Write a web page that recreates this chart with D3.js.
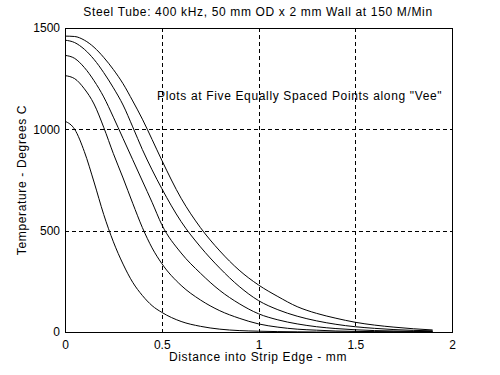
<html>
<script src='https://d3js.org/d3.v7.min.js'></script>
<style>
body { margin: 0; background: white; }
text { font-family: Arial, 'Liberation Sans', sans-serif; font-size: 12px; fill: black; }
.label { letter-spacing: 0.65px; }
</style>
<body>
<svg width=500 height=375></svg>
<script>
// distance into strip edge, mm
const dist = [0, 0.05, 0.1, 0.15, 0.2, 0.25, 0.3, 0.35, 0.4, 0.45, 0.5, 0.6, 0.7, 0.8, 0.9, 1.0, 1.1, 1.2, 1.3, 1.4, 1.5, 1.6, 1.7, 1.8, 1.9];
// temperature at five points along the vee
const point1 = [1460, 1458, 1440, 1405, 1355, 1295, 1225, 1140, 1050, 950, 848, 660, 515, 400, 305, 232, 175, 125, 92, 68, 48, 34, 24, 16, 10];
const point2 = [1440, 1428, 1395, 1345, 1280, 1205, 1120, 1012, 900, 800, 708, 545, 420, 315, 225, 155, 110, 78, 55, 38, 26, 18, 12, 8, 6];
const point3 = [1365, 1350, 1305, 1240, 1160, 1060, 955, 850, 745, 640, 530, 390, 290, 205, 140, 90, 60, 40, 26, 17, 11, 7, 5, 3, 2];
const point4 = [1265, 1250, 1200, 1125, 1010, 880, 760, 635, 515, 415, 338, 230, 158, 105, 68, 40, 24, 14, 9, 5, 3, 2, 1, 1, 0];
const point5 = [1040, 1000, 890, 740, 580, 445, 335, 245, 180, 130, 97, 52, 28, 14, 7, 4, 2, 1, 0, 0, 0, 0, 0, 0, 0];
const series = [point1, point2, point3, point4, point5];

const xTicks = [0, 0.5, 1, 1.5, 2];
const yTicks = [0, 500, 1000, 1500];

const svg = d3.select("svg");
const mLeft = 65, mRight = 452, mTop = 28, mBottom = 332;

var x = d3.scaleLinear().domain([0, 2]).range([mLeft, mRight]);
var y = d3.scaleLinear().domain([0, 1500]).range([mBottom, mTop]);

// dashed grid
svg.append("g").selectAll("line")
    .data(xTicks.slice(1, -1))
    .enter().append("line")
    .attr("x1", d => Math.round(x(d)) + 0.5).attr("x2", d => Math.round(x(d)) + 0.5)
    .attr("y1", mTop).attr("y2", mBottom)
    .attr("stroke", "black").attr("stroke-dasharray", "4,3");

svg.append("g").selectAll("line")
    .data(yTicks.slice(1, -1))
    .enter().append("line")
    .attr("y1", d => Math.round(y(d)) + 0.5).attr("y2", d => Math.round(y(d)) + 0.5)
    .attr("x1", mLeft).attr("x2", mRight)
    .attr("stroke", "black").attr("stroke-dasharray", "4,3");

// frame
svg.append("rect")
    .attr("x", mLeft + 0.5).attr("y", mTop + 0.5)
    .attr("width", mRight - mLeft).attr("height", mBottom - mTop)
    .attr("fill", "none").attr("stroke", "black");

// axes (labels only, no tick marks)
const xAxis = svg.append("g")
    .attr("transform", "translate(0," + mBottom + ")")
    .call(d3.axisBottom(x).tickValues(xTicks).tickSize(0).tickPadding(8).tickFormat(d3.format("")));
const yAxis = svg.append("g")
    .attr("transform", "translate(" + mLeft + ",0)")
    .call(d3.axisLeft(y).tickValues(yTicks).tickSize(0).tickPadding(5).tickFormat(d3.format("")));
xAxis.select(".domain").remove();
yAxis.select(".domain").remove();
svg.selectAll(".tick text").style("font-size", "12px").attr("fill", "black")
    .style("font-family", "Arial, 'Liberation Sans', sans-serif");

// curves
const line = d3.line()
    .x((d, i) => x(dist[i]))
    .y(d => y(d))
    .curve(d3.curveMonotoneX);

svg.append("g").selectAll("path")
    .data(series)
    .enter().append("path")
    .attr("d", line)
    .attr("fill", "none")
    .attr("stroke", "black")
    .attr("stroke-width", 1);

// texts
svg.append("text").attr("class", "label").attr("x", 258).attr("y", 16).attr("text-anchor", "middle")
    .text("Steel Tube: 400 kHz, 50 mm OD x 2 mm Wall at 150 M/Min");
svg.append("text").attr("class", "label").attr("x", 157).attr("y", 100)
    .text("Plots at Five Equally Spaced Points along \"Vee\"");
svg.append("text").attr("class", "label").attr("x", 258).attr("y", 361).attr("text-anchor", "middle")
    .text("Distance into Strip Edge - mm");
svg.append("text").attr("class", "label").attr("transform", "translate(26,180) rotate(-90)").attr("text-anchor", "middle")
    .text("Temperature - Degrees C");
</script>
</body>
</html>
